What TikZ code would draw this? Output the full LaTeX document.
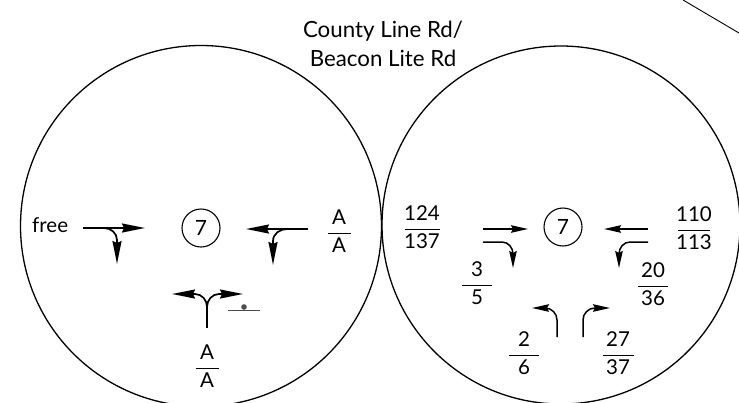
\documentclass[tikz,border=0pt]{standalone}
\usepackage{fontspec}
\usepackage{amsmath}
\setmainfont{Lato}
\usetikzlibrary{arrows.meta,calc}
\newcommand\fr[3]{$\displaystyle\genfrac{}{}{1.1pt}{0}{\makebox[#1pt]{#2}}{\makebox[#1pt]{#3}}$}
\begin{document}
\begin{tikzpicture}[x=1pt,y=-1pt,
  ring/.style={draw, line width=1.3pt, circle, minimum size=#1, inner sep=0pt},
  phase/.style={draw, line width=1.1pt, circle, minimum size=38pt, inner sep=0pt, font=\fontsize{21}{24}\selectfont},
  big/.style={line width=1.7pt, -{Stealth[length=23pt,width=9pt,inset=2pt]}},
  small/.style={line width=1.5pt, -{Stealth[length=17pt,width=7.5pt,inset=2pt]}},
  lbl/.style={font=\fontsize{20.5}{24}\selectfont, inner sep=0pt},
  ttl/.style={font=\fontsize{22.3}{29}\selectfont, align=center, inner sep=0pt}]
\useasboundingbox (0,0) rectangle (739,402);
% big circles
\node[ring=361pt] (L) at (201,226) {};
\node[ring=358pt] (R) at (561,225) {};
\coordinate (d1) at (683,0);
\coordinate (d2) at (739,33);
\draw[line width=0.9pt] (d1) -- (d2);
% title
\node[ttl] (title) at (383,44) {County Line Rd/\\Beacon Lite Rd};
% ---------- left circle ----------
\node[phase] (pL) at (201,228) {7};
\node[lbl, anchor=west] (free) at (32,225) {free};
\node[lbl] (fA1) at (339,231) {\fr{23}{A}{A}};
\node[lbl] (fA2) at (207,366) {\fr{23}{A}{A}};
% EB
\coordinate (eb0) at (83,228);
\coordinate (eb1) at (145,228);
\coordinate (eb2) at (104,228);
\coordinate (eb3) at (117,264);
\draw[big] (eb0) -- (eb1);
\draw[big] (eb2) to[out=0,in=90] ($(eb3)+(0,-24)$) -- (eb3);
% WB
\coordinate (wb0) at (308,229);
\coordinate (wb1) at (246,229);
\coordinate (wb2) at (287,229);
\coordinate (wb3) at (273,265);
\draw[big] (wb0) -- (wb1);
\draw[big] (wb2) to[out=180,in=90] ($(wb3)+(0,-24)$) -- (wb3);
% NB
\coordinate (nb0) at (207,328);
\coordinate (nb1) at (207,307);
\coordinate (nbl) at (172,294);
\coordinate (nbr) at (243,294);
\draw[line width=1.7pt] (nb0) -- (nb1);
\draw[big] (nb1) to[out=90,in=0] (195,294) -- (nbl);
\draw[big] (nb1) to[out=90,in=180] (219,294) -- (nbr);
% pedestrian symbol
\coordinate (p0) at (228,310);
\coordinate (p1) at (260,310);
\draw[line width=1pt, black!70] (p0) -- (p1);
\fill[black!70] (244,307) circle (2.8pt);
% ---------- right circle ----------
\node[phase] (pR) at (563,227) {7};
\node[lbl] (f1) at (422,227) {\fr{35}{124}{137}};
\node[lbl] (f2) at (694,228) {\fr{32}{110}{113}};
\node[lbl] (f3) at (477,283) {\fr{30}{3}{5}};
\node[lbl] (f4) at (653,284) {\fr{30}{20}{36}};
\node[lbl] (f5) at (524,353) {\fr{30}{2}{6}};
\node[lbl] (f6) at (618,353) {\fr{31}{27}{37}};
% EB
\coordinate (re0) at (483,229);
\coordinate (re1) at (528,229);
\coordinate (re2) at (483,242);
\coordinate (re3) at (513,268);
\draw[small] (re0) -- (re1);
\draw[small] (re2) -- (502,242) to[out=0,in=90] (513,254) -- (re3);
% WB
\coordinate (rw0) at (648,229);
\coordinate (rw1) at (604,229);
\coordinate (rw2) at (648,242);
\coordinate (rw3) at (619,268);
\draw[small] (rw0) -- (rw1);
\draw[small] (rw2) -- (630,242) to[out=180,in=90] (619,254) -- (rw3);
% NB
\coordinate (rn0) at (557,337);
\coordinate (rn1) at (532,308);
\coordinate (rn2) at (583,337);
\coordinate (rn3) at (610,308);
\draw[small] (rn0) -- (557,320) to[out=90,in=0] (545,308) -- (rn1);
\draw[small] (rn2) -- (583,320) to[out=90,in=180] (595,308) -- (rn3);
\end{tikzpicture}
\end{document}
